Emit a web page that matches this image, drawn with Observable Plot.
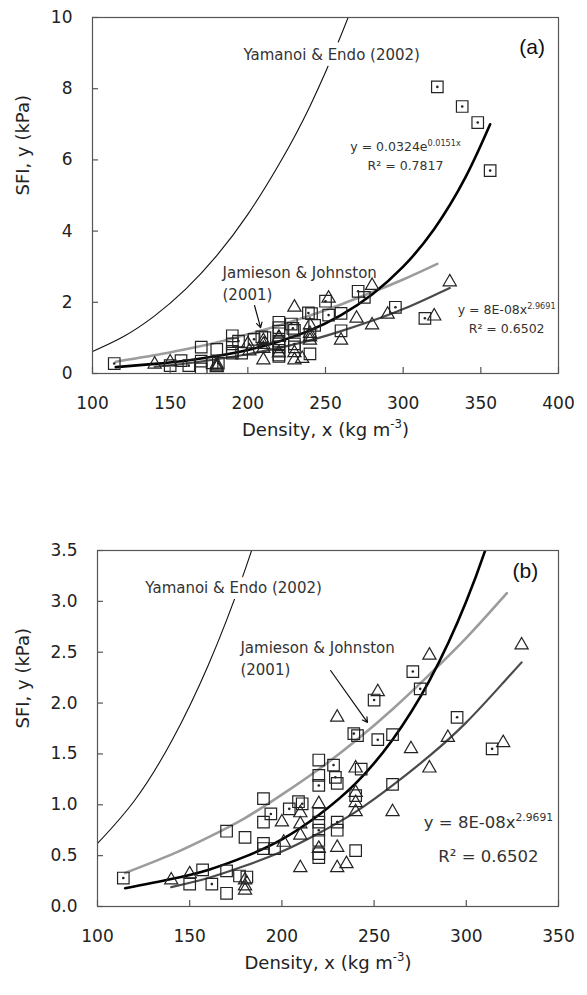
<!DOCTYPE html>
<html><head><meta charset="utf-8">
<script src="https://cdn.jsdelivr.net/npm/d3@7"></script>
<script src="https://cdn.jsdelivr.net/npm/@observablehq/plot@0.6"></script>
<style>
body{margin:0;background:#fff;}
#wrap{width:587px;}
svg{display:block;}
</style></head><body><div id="wrap"></div>
<script>
// Observed points: [density (kg m-3), SFI (kPa)]
const squaresDotted = [[114,0.28],[162,0.22],[181,0.29],[194,0.91],[204,0.96],[211,1.01],[220,1.19],[220,0.75],[228,1.39],[229,1.27],[230,0.83],[239,1.70],[250,2.03],[252,1.64],[271,2.31],[275,2.14],[295,1.86],[314,1.55],[322,8.05],[338,7.50],[348,7.05],[356,5.70]];
const squaresOpen = [[150,0.22],[157,0.36],[170,0.35],[170,0.13],[170,0.74],[177,0.30],[180,0.68],[190,1.06],[190,0.83],[190,0.62],[190,0.57],[196,0.57],[209,1.03],[220,1.44],[220,1.29],[220,0.91],[220,0.83],[220,0.65],[220,0.52],[220,0.48],[230,1.21],[230,0.75],[240,0.55],[241,1.68],[243,1.35],[240,1.09],[260,1.69],[260,1.20]];
const triangles = [[140,0.26],[150,0.32],[180,0.26],[180,0.20],[180,0.16],[200,0.83],[201,0.63],[210,0.92],[210,0.81],[210,0.70],[210,0.38],[220,1.01],[220,0.57],[230,1.86],[230,0.58],[230,0.38],[235,0.42],[240,1.36],[240,1.12],[240,1.02],[240,0.93],[252,2.11],[260,0.93],[270,1.55],[280,2.47],[280,1.36],[290,1.66],[320,1.61],[330,2.57]];
// Curves
const expFit = [[115,0.18],[140,0.27],[160,0.36],[180,0.49],[200,0.66],[220,0.90],[240,1.21],[260,1.64],[280,2.22],[300,3.00],[320,4.06],[340,5.50],[356,7.00]];
const powFit = [[140,0.19],[160,0.28],[180,0.40],[200,0.54],[220,0.72],[240,0.93],[260,1.19],[280,1.48],[300,1.81],[320,2.20],[330,2.40]];
const jamieson = [[115,0.33],[140,0.51],[160,0.68],[180,0.87],[200,1.10],[220,1.35],[240,1.63],[260,1.94],[280,2.28],[300,2.64],[322,3.08]];
const yamanoi = [[100,0.62],[120,1.04],[140,1.62],[160,2.37],[180,3.31],[200,4.47],[220,5.87],[240,7.51],[260,9.50],[275,11.2]];
// Ticks
const xTicksA = [100,150,200,250,300,350,400];
const yTicksA = [0,2,4,6,8,10];
const xTicksB = [100,150,200,250,300,350];
const yTicksB = [0,0.5,1,1.5,2,2.5,3,3.5];
// Texts
const labelX = "Density, x (kg m^{-3})";
const labelY = "SFI, y (kPa)";
const refYE = "Yamanoi & Endo (2002)";
const refJJ = "Jamieson & Johnston\n(2001)";
const eqExp = "y = 0.0324e^{0.0151x}";
const r2Exp = "R² = 0.7817";
const eqPow = "y = 8E-08x^{2.9691}";
const r2Pow = "R² = 0.6502";

const FONT = "'DejaVu Sans', sans-serif";
const INK = "#222";

function superscripts(svg) {
  d3.select(svg).selectAll("text").each(function() {
    if (this.children.length) return;
    const s = this.textContent;
    if (!s.includes("^{")) return;
    const fs = parseFloat(getComputedStyle(this).fontSize) || 16;
    this.textContent = "";
    let raised = false;
    for (const p of s.split(/(\^\{[^}]*\})/)) {
      if (!p) continue;
      const t = document.createElementNS("http://www.w3.org/2000/svg", "tspan");
      if (p.startsWith("^{")) {
        t.textContent = p.slice(2, -1);
        t.setAttribute("font-size", (fs * 0.65) + "px");
        t.setAttribute("dy", (-fs * 0.42) + "px");
        raised = true;
      } else {
        t.textContent = p;
        if (raised) { t.setAttribute("dy", (fs * 0.42) + "px"); raised = false; }
      }
      this.appendChild(t);
    }
  });
}

function panel(o) {
  const plotW = 587 - o.ml - o.mr, plotH = o.h - o.mt - o.mb;
  const P = d => d[0], V = d => d[1];
  const svg = Plot.plot({
    width: 587, height: o.h,
    marginTop: o.mt, marginBottom: o.mb, marginLeft: o.ml, marginRight: o.mr,
    style: {fontFamily: FONT, fontSize: "17px", background: "white", overflow: "visible"},
    x: {domain: o.xd},
    y: {domain: o.yd},
    marks: [
      Plot.line(yamanoi, {x: P, y: V, stroke: "#111", strokeWidth: 1.1, curve: "natural", clip: true}),
      Plot.line(jamieson, {x: P, y: V, stroke: "#9c9c9c", strokeWidth: 2.6, curve: "natural", clip: true}),
      Plot.line(powFit, {x: P, y: V, stroke: "#4a4a4a", strokeWidth: 2.2, curve: "natural", clip: true}),
      Plot.line(expFit, {x: P, y: V, stroke: "#000", strokeWidth: 2.6, curve: "natural", clip: true}),
      Plot.dot(squaresOpen, {x: P, y: V, symbol: "square", r: 6.5, stroke: INK, strokeWidth: 1.2, fill: "none", clip: true}),
      Plot.dot(squaresDotted, {x: P, y: V, symbol: "square", r: 6.5, stroke: INK, strokeWidth: 1.2, fill: "none", clip: true}),
      Plot.dot(squaresDotted, {x: P, y: V, r: 1.3, fill: INK, stroke: null, clip: true}),
      Plot.dot(triangles, {x: P, y: V, symbol: "triangle", r: 4.9, stroke: INK, strokeWidth: 1.2, fill: "none", clip: true}),
      Plot.frame({stroke: "#555", strokeWidth: 1.2}),
      Plot.tickX(o.xt, {x: d => d, stroke: "#555", strokeWidth: 1.2, insetTop: plotH - 6}),
      Plot.tickY(o.yt, {y: d => d, stroke: "#555", strokeWidth: 1.2, insetRight: plotW - 6}),
      Plot.axisX({ticks: o.xt, tickSize: 0, tickPadding: 23, label: null, fill: INK, fontSize: 17}),
      Plot.axisY({ticks: o.yt, tickSize: 0, tickPadding: 20, label: null, fill: INK, fontSize: 17, tickFormat: o.yf}),
      Plot.text([labelX], {frameAnchor: "bottom", dy: 62, fontSize: 18, fill: INK}),
      Plot.text([labelY], {frameAnchor: "left", dx: o.ylx, rotate: -90, fontSize: 18, fill: INK}),
      ...o.notes
    ]
  });
  document.getElementById("wrap").appendChild(svg);
  superscripts(svg);
}

panel({
  h: 497, mt: 17, mb: 124, ml: 92, mr: 29,
  xd: [100, 400], yd: [0, 10], xt: xTicksA, yt: yTicksA, yf: d3.format("d"), ylx: -69,
  notes: [
    Plot.text([refYE], {x: 254, y: 8.93, fontSize: 15, fill: "#333", stroke: "white", strokeWidth: 12}),
    Plot.text(["(a)"], {x: 383, y: 9.16, fontSize: 21, fontFamily: "'Liberation Sans', Arial, sans-serif", fill: "#111"}),
    Plot.text([eqExp], {x: 301.5, y: 6.35, fontSize: 12.5, fill: "#333"}),
    Plot.text([r2Exp], {x: 301.5, y: 5.84, fontSize: 12.5, fill: "#333"}),
    Plot.text([refJJ], {x: 183.7, y: 2.57, fontSize: 15, fill: "#333", textAnchor: "start", lineHeight: 1.5}),
    Plot.arrow([0], {x1: 204.3, y1: 1.91, x2: 208.2, y2: 1.29, stroke: "#111", strokeWidth: 1.2, headLength: 7}),
    Plot.text([eqPow], {x: 366.6, y: 1.77, fontSize: 12.5, fill: "#333"}),
    Plot.text([r2Pow], {x: 366.6, y: 1.26, fontSize: 12.5, fill: "#333"})
  ]
});

panel({
  h: 498, mt: 53, mb: 89, ml: 97, mr: 29,
  xd: [100, 350], yd: [0, 3.5], xt: xTicksB, yt: yTicksB, yf: d3.format(".1f"), ylx: -74,
  notes: [
    Plot.text([refYE], {x: 173.8, y: 3.13, fontSize: 15, fill: "#333", stroke: "white", strokeWidth: 12}),
    Plot.text(["(b)"], {x: 332, y: 3.30, fontSize: 21, fontFamily: "'Liberation Sans', Arial, sans-serif", fill: "#111"}),
    Plot.text([refJJ], {x: 177.5, y: 2.455, fontSize: 15, fill: "#333", textAnchor: "start", lineHeight: 1.5}),
    Plot.arrow([0], {x1: 226.4, y1: 2.32, x2: 246.4, y2: 1.81, stroke: "#111", strokeWidth: 1.2, headLength: 7}),
    Plot.text([eqPow], {x: 312, y: 0.82, fontSize: 16.5, fill: "#333"}),
    Plot.text([r2Pow], {x: 312, y: 0.49, fontSize: 16.5, fill: "#333"})
  ]
});
</script></body></html>
